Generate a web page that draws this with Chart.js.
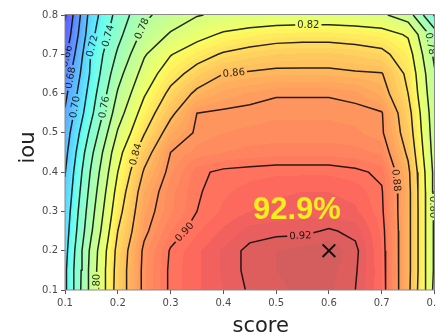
<!DOCTYPE html>
<html>
<head>
<meta charset="utf-8">
<title>score / iou contour</title>
<script src="https://cdn.jsdelivr.net/npm/chart.js@4.4.1/dist/chart.umd.min.js"></script>
<style>
  html, body { margin: 0; padding: 0; background: #fff; overflow: hidden; }
  #wrap { position: relative; width: 450px; height: 335px; }
</style>
</head>
<body>
<div id="wrap"><canvas id="contourChart"></canvas></div>
<script>
// ========================================
// DATA
// ========================================

const scoreValues = [0.10, 0.15, 0.20, 0.25, 0.30, 0.35, 0.40, 0.45, 0.50, 0.55, 0.60, 0.65, 0.70, 0.75, 0.80];
// one row of metricRows per iou value, top row (0.80) first
const iouValues = [0.80, 0.75, 0.70, 0.65, 0.60, 0.55, 0.50, 0.45, 0.40, 0.35, 0.30, 0.25, 0.20, 0.15, 0.10];
const metricRows = [
    [0.638, 0.710, 0.747, 0.776, 0.789, 0.799, 0.803, 0.805, 0.806, 0.807, 0.807, 0.806, 0.803, 0.790, 0.738],
    [0.645, 0.715, 0.754, 0.786, 0.802, 0.813, 0.823, 0.828, 0.832, 0.833, 0.833, 0.831, 0.828, 0.818, 0.770],
    [0.655, 0.722, 0.763, 0.798, 0.819, 0.832, 0.842, 0.847, 0.850, 0.851, 0.851, 0.849, 0.845, 0.829, 0.776],
    [0.667, 0.724, 0.773, 0.808, 0.832, 0.848, 0.860, 0.862, 0.864, 0.864, 0.864, 0.862, 0.861, 0.836, 0.782],
    [0.675, 0.730, 0.782, 0.818, 0.845, 0.864, 0.872, 0.876, 0.879, 0.879, 0.879, 0.877, 0.868, 0.840, 0.785],
    [0.682, 0.736, 0.791, 0.829, 0.856, 0.880, 0.882, 0.883, 0.884, 0.884, 0.884, 0.883, 0.881, 0.847, 0.788],
    [0.689, 0.746, 0.802, 0.839, 0.869, 0.882, 0.885, 0.886, 0.887, 0.887, 0.887, 0.886, 0.882, 0.851, 0.790],
    [0.694, 0.756, 0.813, 0.852, 0.880, 0.887, 0.890, 0.892, 0.893, 0.893, 0.893, 0.892, 0.889, 0.857, 0.792],
    [0.699, 0.763, 0.820, 0.862, 0.884, 0.898, 0.902, 0.903, 0.904, 0.904, 0.904, 0.902, 0.898, 0.864, 0.795],
    [0.703, 0.768, 0.827, 0.870, 0.888, 0.899, 0.904, 0.907, 0.909, 0.910, 0.910, 0.908, 0.901, 0.866, 0.796],
    [0.707, 0.773, 0.833, 0.874, 0.889, 0.900, 0.906, 0.910, 0.912, 0.913, 0.913, 0.911, 0.902, 0.866, 0.797],
    [0.710, 0.778, 0.840, 0.877, 0.895, 0.904, 0.911, 0.917, 0.918, 0.918, 0.921, 0.918, 0.904, 0.866, 0.797],
    [0.713, 0.786, 0.846, 0.883, 0.901, 0.909, 0.916, 0.922, 0.925, 0.927, 0.929, 0.922, 0.905, 0.866, 0.797],
    [0.716, 0.788, 0.848, 0.884, 0.902, 0.909, 0.916, 0.922, 0.925, 0.927, 0.927, 0.921, 0.906, 0.866, 0.797],
    [0.717, 0.789, 0.849, 0.884, 0.902, 0.909, 0.915, 0.921, 0.924, 0.926, 0.926, 0.920, 0.906, 0.865, 0.795]
];

const lineLevels = [0.64, 0.66, 0.68, 0.70, 0.72, 0.74, 0.76, 0.78, 0.80, 0.82, 0.84, 0.86, 0.88, 0.90, 0.92];
const xTicks = [0.1, 0.2, 0.3, 0.4, 0.5, 0.6, 0.7, 0.8];
const yTicks = [0.1, 0.2, 0.3, 0.4, 0.5, 0.6, 0.7, 0.8];

const bestScore = 0.6;
const bestIou = 0.2;
const bestLabel = '92.9%';

// ========================================
// LAYOUT / STYLE
// ========================================

// rough spots (score, iou) where the inline contour labels sit; snapped to the line
const labelHints = [
    [0.66, 0.110, 0.693], [0.68, 0.115, 0.639], [0.70, 0.119, 0.566],
    [0.72, 0.161, 0.718], [0.74, 0.189, 0.744], [0.76, 0.172, 0.566],
    [0.78, 0.239, 0.769], [0.80, 0.157, 0.113], [0.82, 0.561, 0.774],
    [0.84, 0.237, 0.444], [0.86, 0.419, 0.665], [0.88, 0.736, 0.380],
    [0.90, 0.322, 0.253], [0.92, 0.546, 0.235], [0.80, 0.797, 0.311],
    [0.78, 0.797, 0.728]
];

const V_MIN = 0.60;
const V_MAX = 0.945;
const Q_BASE = 0.60;
const Q_STEP = 0.005;
const FILL_ALPHA = 0.63;
const LINE_COLOR = 'rgba(10, 10, 10, 0.88)';
const TEXT_COLOR = '#4a4a4a';

// ========================================
// GRID HELPERS
// ========================================

const iouAsc = iouValues.slice().reverse();
const grid = metricRows.slice().reverse();   // grid[j][i]: iouAsc[j], scoreValues[i]

const JET = {
    r: [[0, 0], [0.35, 0], [0.66, 1], [0.89, 1], [1, 0.5]],
    g: [[0, 0], [0.125, 0], [0.375, 1], [0.64, 1], [0.91, 0], [1, 0]],
    b: [[0, 0.5], [0.11, 1], [0.34, 1], [0.65, 0], [1, 0]]
};

function jetChannel(stops, t) {
    for (let k = 1; k < stops.length; k++) {
        if (t <= stops[k][0]) {
            const [t0, v0] = stops[k - 1];
            const [t1, v1] = stops[k];
            return v0 + (v1 - v0) * (t - t0) / (t1 - t0);
        }
    }
    return stops[stops.length - 1][1];
}

function fillColor(z) {
    const zq = Q_BASE + (Math.floor((z - Q_BASE) / Q_STEP) + 0.5) * Q_STEP;
    const t = Math.min(1, Math.max(0, (zq - V_MIN) / (V_MAX - V_MIN)));
    return [JET.r, JET.g, JET.b].map(ch =>
        Math.round(255 * (FILL_ALPHA * jetChannel(ch, t) + 1 - FILL_ALPHA)));
}

function findCell(vals, v) {
    let k = 0;
    while (k < vals.length - 2 && v > vals[k + 1]) k++;
    const t = (v - vals[k]) / (vals[k + 1] - vals[k]);
    return [k, Math.min(1, Math.max(0, t))];
}

function sampleZ(sx, sy) {
    const [i, tx] = findCell(scoreValues, sx);
    const [j, ty] = findCell(iouAsc, sy);
    const lo = grid[j][i] * (1 - tx) + grid[j][i + 1] * tx;
    const hi = grid[j + 1][i] * (1 - tx) + grid[j + 1][i + 1] * tx;
    return lo * (1 - ty) + hi * ty;
}

// marching squares on the grid, joined into polylines
function traceLevel(level) {
    const segs = [];
    const edgePoint = (i0, j0, i1, j1) => {
        const v0 = grid[j0][i0], v1 = grid[j1][i1];
        const t = (level - v0) / (v1 - v0);
        return {
            x: scoreValues[i0] + t * (scoreValues[i1] - scoreValues[i0]),
            y: iouAsc[j0] + t * (iouAsc[j1] - iouAsc[j0])
        };
    };
    for (let j = 0; j < iouAsc.length - 1; j++) {
        for (let i = 0; i < scoreValues.length - 1; i++) {
            const c = [grid[j][i], grid[j][i + 1], grid[j + 1][i + 1], grid[j + 1][i]];
            const up = c.map(v => v >= level);
            const edges = [
                up[0] !== up[1] ? { key: `h${i},${j}`, pt: edgePoint(i, j, i + 1, j) } : null,
                up[1] !== up[2] ? { key: `v${i + 1},${j}`, pt: edgePoint(i + 1, j, i + 1, j + 1) } : null,
                up[3] !== up[2] ? { key: `h${i},${j + 1}`, pt: edgePoint(i, j + 1, i + 1, j + 1) } : null,
                up[0] !== up[3] ? { key: `v${i},${j}`, pt: edgePoint(i, j, i, j + 1) } : null
            ];
            const hit = edges.filter(Boolean);
            if (hit.length === 2) {
                segs.push(hit);
            } else if (hit.length === 4) {
                const centre = (c[0] + c[1] + c[2] + c[3]) / 4 >= level;
                if (centre === up[0]) {
                    segs.push([edges[0], edges[1]], [edges[2], edges[3]]);
                } else {
                    segs.push([edges[0], edges[3]], [edges[1], edges[2]]);
                }
            }
        }
    }

    const byKey = new Map();
    segs.forEach((s, idx) => s.forEach(e => {
        if (!byKey.has(e.key)) byKey.set(e.key, []);
        byKey.get(e.key).push(idx);
    }));
    const used = new Array(segs.length).fill(false);
    const lines = [];
    for (let s = 0; s < segs.length; s++) {
        if (used[s]) continue;
        used[s] = true;
        const chain = [segs[s][0], segs[s][1]];
        [true, false].forEach(atEnd => {
            while (true) {
                const tip = atEnd ? chain[chain.length - 1] : chain[0];
                const next = (byKey.get(tip.key) || []).find(k => !used[k]);
                if (next === undefined) break;
                used[next] = true;
                const other = segs[next][0].key === tip.key ? segs[next][1] : segs[next][0];
                if (atEnd) chain.push(other); else chain.unshift(other);
            }
        });
        lines.push(chain.map(e => e.pt));
    }
    return lines;
}

const contourPaths = new Map(lineLevels.map(lv => [lv, traceLevel(lv)]));

// ========================================
// PLUGINS
// ========================================

let fillCanvas = null;

const contourFillPlugin = {
    id: 'contourFill',
    beforeDatasetsDraw(chart) {
        const { ctx, chartArea: a, scales: { x, y } } = chart;
        const left = Math.round(a.left), top = Math.round(a.top);
        const w = Math.round(a.right) - left, h = Math.round(a.bottom) - top;
        fillCanvas = document.createElement('canvas');
        fillCanvas.width = w;
        fillCanvas.height = h;
        const fctx = fillCanvas.getContext('2d');
        const img = fctx.createImageData(w, h);
        for (let py = 0; py < h; py++) {
            const yv = y.getValueForPixel(top + py + 0.5);
            for (let px = 0; px < w; px++) {
                const xv = x.getValueForPixel(left + px + 0.5);
                const c = fillColor(sampleZ(xv, yv));
                const o = (py * w + px) * 4;
                img.data[o] = c[0];
                img.data[o + 1] = c[1];
                img.data[o + 2] = c[2];
                img.data[o + 3] = 255;
            }
        }
        fctx.putImageData(img, 0, 0);
        ctx.drawImage(fillCanvas, left, top);
    },
    afterDatasetDraw(chart, args) {
        // labels go on after the last contour line, before the best-point marker
        if (args.index === 1) drawContourLabels(chart);
    },
    afterDatasetsDraw(chart) {
        const { ctx, scales: { x, y } } = chart;
        ctx.save();
        ctx.font = 'bold 31px "Liberation Sans", Arial, sans-serif';
        ctx.fillStyle = '#f4ee1e';
        ctx.textAlign = 'center';
        ctx.textBaseline = 'middle';
        ctx.fillText(bestLabel, x.getPixelForValue(bestScore) - 32, y.getPixelForValue(bestIou) - 40);
        ctx.restore();
    },
    afterDraw(chart) {
        const { ctx, chartArea: a } = chart;
        ctx.save();
        ctx.strokeStyle = '#8a8a8a';
        ctx.lineWidth = 1;
        ctx.strokeRect(a.left, a.top - 0.5, a.right - a.left, a.bottom - a.top + 0.5);

        ctx.fillStyle = '#222';
        ctx.font = '21px "DejaVu Sans", sans-serif';
        ctx.textAlign = 'center';
        ctx.textBaseline = 'alphabetic';
        ctx.fillText('score', (a.left + a.right) / 2 + 11, 332);

        ctx.translate(34, (a.top + a.bottom) / 2 - 5);
        ctx.rotate(-Math.PI / 2);
        ctx.fillText('iou', 0, 0);
        ctx.restore();
    }
};

function drawContourLabels(chart) {
    const { ctx, chartArea: a, scales: { x, y } } = chart;
    ctx.save();
    ctx.beginPath();
    ctx.rect(a.left, a.top, a.right - a.left, a.bottom - a.top);
    ctx.clip();
    ctx.font = '10px "DejaVu Sans", sans-serif';

    labelHints.forEach(([lv, hx, hy]) => {
        const tx = x.getPixelForValue(hx), ty = y.getPixelForValue(hy);
        let best = null;
        (contourPaths.get(lv) || []).forEach(poly => {
            for (let k = 0; k < poly.length - 1; k++) {
                const ax = x.getPixelForValue(poly[k].x), ay = y.getPixelForValue(poly[k].y);
                const bx = x.getPixelForValue(poly[k + 1].x), by = y.getPixelForValue(poly[k + 1].y);
                const dx = bx - ax, dy = by - ay;
                const len2 = dx * dx + dy * dy || 1;
                const t = Math.min(1, Math.max(0, ((tx - ax) * dx + (ty - ay) * dy) / len2));
                const px = ax + t * dx, py = ay + t * dy;
                const d = (px - tx) ** 2 + (py - ty) ** 2;
                if (!best || d < best.d) best = { d, px, py, dx, dy };
            }
        });
        if (!best) return;

        let ang = Math.atan2(best.dy, best.dx);
        if (ang > Math.PI / 2) ang -= Math.PI;
        if (ang < -Math.PI / 2) ang += Math.PI;
        const text = lv.toFixed(2);
        const w = ctx.measureText(text).width;

        // cut the line under the label by repainting the fill there
        ctx.save();
        ctx.translate(best.px, best.py);
        ctx.rotate(ang);
        ctx.beginPath();
        ctx.rect(-w / 2 - 2, -5, w + 4, 10);
        ctx.clip();
        ctx.rotate(-ang);
        ctx.translate(-best.px, -best.py);
        ctx.drawImage(fillCanvas, Math.round(a.left), Math.round(a.top));
        ctx.restore();

        ctx.save();
        ctx.translate(best.px, best.py);
        ctx.rotate(ang);
        ctx.fillStyle = LINE_COLOR;
        ctx.textAlign = 'center';
        ctx.textBaseline = 'middle';
        ctx.fillText(text, 0, 0.5);
        ctx.restore();
    });
    ctx.restore();
}

// ========================================
// CHART
// ========================================

function polylineData(level) {
    const out = [];
    contourPaths.get(level).forEach((poly, n) => {
        if (n > 0) out.push({ x: null, y: null });
        poly.forEach(p => out.push({ x: p.x, y: p.y }));
    });
    return out;
}

const datasets = [{
    label: 'best',
    data: [{ x: bestScore, y: bestIou }],
    pointStyle: 'crossRot',
    pointRadius: 9,
    pointBorderWidth: 2,
    borderColor: '#111',
    backgroundColor: '#111',
    showLine: false
}].concat(lineLevels.map(lv => ({
    label: lv.toFixed(2),
    data: polylineData(lv),
    showLine: true,
    spanGaps: false,
    borderColor: LINE_COLOR,
    borderWidth: 1.5,
    pointRadius: 0,
    pointHitRadius: 0,
    tension: 0
})));

const axisTicks = (values) => ({
    afterBuildTicks: s => { s.ticks = values.map(v => ({ value: v })); },
    grid: { drawOnChartArea: false, tickLength: 4, tickColor: '#555', tickWidth: 1 },
    border: { display: false },
    ticks: {
        padding: 3,
        color: TEXT_COLOR,
        autoSkip: false,
        maxRotation: 0,
        font: { family: 'DejaVu Sans', size: 10 },
        callback: v => v.toFixed(1)
    }
});

new Chart(document.getElementById('contourChart'), {
    type: 'scatter',
    data: { datasets },
    options: {
        responsive: true,
        maintainAspectRatio: false,
        animation: false,
        events: [],
        layout: { padding: { top: 15, right: 15.5, left: 0, bottom: 0 } },
        plugins: { legend: { display: false }, tooltip: { enabled: false } },
        scales: {
            x: Object.assign({ type: 'linear', min: 0.1, max: 0.8,
                afterFit: s => { s.height = 45; } }, axisTicks(xTicks)),
            y: Object.assign({ type: 'linear', min: 0.1, max: 0.8,
                afterFit: s => { s.width = 65; } }, axisTicks(yTicks))
        }
    },
    plugins: [contourFillPlugin]
});
</script>
</body>
</html>
